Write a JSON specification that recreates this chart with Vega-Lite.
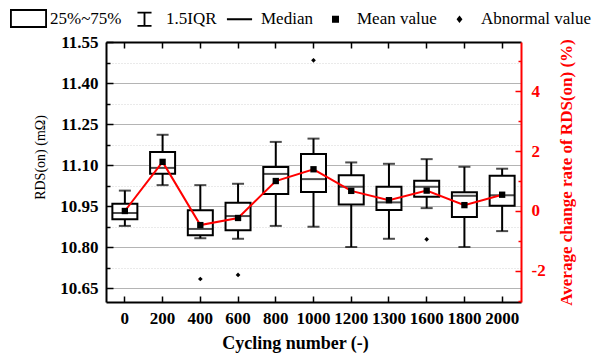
{
  "$schema": "https://vega.github.io/schema/vega-lite/v6.json",
  "width": 415,
  "height": 260,
  "autosize": "none",
  "padding": {"left": 106, "top": 42, "right": 71, "bottom": 54},
  "background": "white",
  "config": {
    "view": {"stroke": null},
    "font": "Liberation Serif",
    "axis": {"labelFont": "Liberation Serif", "titleFont": "Liberation Serif"},
    "legend": {"labelFont": "Liberation Serif"}
  },
  "datasets": {
    "boxes": [
      {"cycle": "0", "wlo": 10.878, "q1": 10.902, "med": 10.925, "q3": 10.959, "whi": 11.007, "mean": 10.9325, "rate": 0.0},
      {"cycle": "200", "wlo": 11.027, "q1": 11.069, "med": 11.090, "q3": 11.148, "whi": 11.211, "mean": 11.112, "rate": 1.642},
      {"cycle": "400", "wlo": 10.833, "q1": 10.844, "med": 10.867, "q3": 10.935, "whi": 11.027, "mean": 10.881, "rate": -0.471},
      {"cycle": "600", "wlo": 10.831, "q1": 10.862, "med": 10.914, "q3": 10.963, "whi": 11.032, "mean": 10.907, "rate": -0.233},
      {"cycle": "800", "wlo": 10.878, "q1": 10.995, "med": 11.068, "q3": 11.093, "whi": 11.185, "mean": 11.042, "rate": 1.002},
      {"cycle": "1000", "wlo": 10.875, "q1": 11.002, "med": 11.049, "q3": 11.141, "whi": 11.197, "mean": 11.085, "rate": 1.395},
      {"cycle": "1200", "wlo": 10.801, "q1": 10.956, "med": 11.021, "q3": 11.063, "whi": 11.110, "mean": 11.006, "rate": 0.672},
      {"cycle": "1300", "wlo": 10.831, "q1": 10.936, "med": 10.964, "q3": 11.021, "whi": 11.105, "mean": 10.972, "rate": 0.361},
      {"cycle": "1600", "wlo": 10.943, "q1": 10.985, "med": 11.021, "q3": 11.043, "whi": 11.122, "mean": 11.007, "rate": 0.681},
      {"cycle": "1800", "wlo": 10.801, "q1": 10.911, "med": 10.988, "q3": 11.001, "whi": 11.094, "mean": 10.954, "rate": 0.197},
      {"cycle": "2000", "wlo": 10.859, "q1": 10.952, "med": 10.990, "q3": 11.061, "whi": 11.087, "mean": 10.992, "rate": 0.544}
    ],
    "outliers": [
      {"cycle": "400", "value": 10.684},
      {"cycle": "600", "value": 10.699},
      {"cycle": "1000", "value": 11.483},
      {"cycle": "1600", "value": 10.829}
    ],
    "legend": [
      {"item": "25%~75%"},
      {"item": "1.5IQR"},
      {"item": "Median"},
      {"item": "Mean value"},
      {"item": "Abnormal value"}
    ]
  },
  "resolve": {"scale": {"y": "independent"}},
  "layer": [
    {
      "data": {"name": "boxes"},
      "mark": {"type": "rule", "color": "black", "strokeWidth": 2},
      "encoding": {
        "x": {
          "field": "cycle", "type": "ordinal", "sort": null,
          "scale": {"paddingInner": 0, "paddingOuter": 0},
          "axis": {
            "orient": "bottom",
            "title": "Cycling number (-)",
            "titleFontSize": 18, "titleFontWeight": "bold", "titleColor": "black",
            "titleX": 189, "titleY": 46, "titleBaseline": "alphabetic", "titleAlign": "center",
            "labelFontSize": 17, "labelFontWeight": "bold", "labelColor": "black",
            "labelAngle": 0, "labelOverlap": false, "labelBound": false,
            "labelBaseline": "alphabetic", "labelPadding": 27,
            "tickSize": -6, "tickColor": "black", "tickWidth": 1.5,
            "domainColor": "black", "domainWidth": 2, "grid": false
          }
        },
        "y": {
          "field": "wlo", "type": "quantitative",
          "scale": {"domain": [10.6, 11.55], "nice": false, "zero": false},
          "axis": {
            "orient": "left",
            "values": [10.65, 10.725, 10.8, 10.875, 10.95, 11.025, 11.1, 11.175, 11.25, 11.325, 11.4, 11.475, 11.55],
            "labelExpr": "abs(round(datum.value*1000) % 150) < 1 ? format(datum.value, '.2f') : ''",
            "labelFontSize": 17, "labelFontWeight": "bold", "labelColor": "black",
            "labelPadding": 15, "labelBaseline": "middle",
            "tickSize": {"condition": {"test": "abs(round(datum.value*1000) % 150) < 1", "value": -7}, "value": -4},
            "tickColor": "black", "tickWidth": 1.5,
            "domainColor": "black", "domainWidth": 2,
            "grid": true,
            "gridColor": {"condition": {"test": "abs(round(datum.value*1000) % 150) < 1", "value": "#b4b4b4"}, "value": "#d4d4d4"},
            "gridDash": {"condition": {"test": "abs(round(datum.value*1000) % 150) < 1", "value": []}, "value": [1, 2]},
            "gridWidth": 1,
            "title": "RDS(on) (mΩ)",
            "titleFontSize": 14, "titleFontWeight": "normal", "titleColor": "black",
            "titleAngle": -90, "titleX": -62, "titleY": 115,
            "titleBaseline": "alphabetic", "titleAlign": "center"
          }
        },
        "y2": {"field": "whi"}
      }
    },
    {
      "data": {"name": "boxes"},
      "mark": {"type": "tick", "color": "black", "size": 12, "thickness": 2},
      "encoding": {
        "x": {"field": "cycle", "type": "ordinal", "sort": null, "axis": null},
        "y": {"field": "wlo", "type": "quantitative", "scale": {"domain": [10.6, 11.55], "nice": false, "zero": false}, "axis": null}
      }
    },
    {
      "data": {"name": "boxes"},
      "mark": {"type": "tick", "color": "black", "size": 12, "thickness": 2},
      "encoding": {
        "x": {"field": "cycle", "type": "ordinal", "sort": null, "axis": null},
        "y": {"field": "whi", "type": "quantitative", "scale": {"domain": [10.6, 11.55], "nice": false, "zero": false}, "axis": null}
      }
    },
    {
      "data": {"name": "boxes"},
      "mark": {"type": "bar", "fill": "white", "stroke": "black", "strokeWidth": 2, "size": 25},
      "encoding": {
        "x": {
          "field": "cycle", "type": "ordinal", "sort": null,
          "axis": {
            "orient": "top", "labels": false, "title": null,
            "tickSize": -6, "tickColor": "black", "tickWidth": 1.5,
            "domainColor": "black", "domainWidth": 2, "grid": false
          }
        },
        "y": {"field": "q1", "type": "quantitative", "scale": {"domain": [10.6, 11.55], "nice": false, "zero": false}, "axis": null},
        "y2": {"field": "q3"}
      }
    },
    {
      "data": {"name": "boxes"},
      "mark": {"type": "tick", "color": "black", "size": 25, "thickness": 2},
      "encoding": {
        "x": {"field": "cycle", "type": "ordinal", "sort": null, "axis": null},
        "y": {"field": "med", "type": "quantitative", "scale": {"domain": [10.6, 11.55], "nice": false, "zero": false}, "axis": null}
      }
    },
    {
      "data": {"name": "outliers"},
      "mark": {"type": "point", "shape": "diamond", "filled": true, "color": "black", "size": 22, "opacity": 1},
      "encoding": {
        "x": {"field": "cycle", "type": "ordinal", "sort": null, "axis": null},
        "y": {"field": "value", "type": "quantitative", "scale": {"domain": [10.6, 11.55], "nice": false, "zero": false}, "axis": null}
      }
    },
    {
      "data": {"name": "legend"},
      "mark": {"type": "point", "filled": true, "color": "black", "fillOpacity": 0, "strokeOpacity": 0},
      "encoding": {
        "shape": {
          "field": "item", "type": "nominal",
          "scale": {
            "domain": ["25%~75%", "1.5IQR", "Median", "Mean value", "Abnormal value"],
            "range": [
              "M-1,-0.51L1,-0.51L1,0.51L-1,0.51ZM-0.9,-0.41L-0.9,0.41L0.9,0.41L0.9,-0.41Z",
              "M-0.38,-0.405L0.38,-0.405L0.38,-0.305L0.05,-0.305L0.05,0.305L0.38,0.305L0.38,0.405L-0.38,0.405L-0.38,0.305L-0.05,0.305L-0.05,-0.305L-0.38,-0.305Z",
              "M-0.68,-0.055L0.68,-0.055L0.68,0.055L-0.68,0.055Z",
              "M-0.19,-0.19L0.19,-0.19L0.19,0.19L-0.19,0.19Z",
              "M0,-0.2L0.16,0L0,0.2L-0.16,0Z"
            ]
          },
          "legend": {
            "orient": "none", "legendX": -96, "legendY": -42,
            "direction": "horizontal", "columns": 5, "columnPadding": 4,
            "padding": 0, "title": null,
            "labelOffset": 3, "labelFontSize": 17, "labelColor": "black", "labelLimit": 300,
            "symbolSize": 1369, "symbolStrokeWidth": 0, "symbolFillColor": "black", "symbolOpacity": 1
          }
        }
      }
    },
    {
      "data": {"name": "boxes"},
      "mark": {"type": "line", "color": "#ff0000", "strokeWidth": 2},
      "encoding": {
        "x": {"field": "cycle", "type": "ordinal", "sort": null, "axis": null},
        "y": {
          "field": "rate", "type": "quantitative",
          "scale": {"domain": [-3.0414, 5.6483], "nice": false, "zero": false},
          "axis": {
            "orient": "right",
            "values": [-3, -2, -1, 0, 1, 2, 3, 4, 5],
            "labelExpr": "datum.value % 2 === 0 ? '' + datum.value : ''",
            "labelFontSize": 17, "labelFontWeight": "bold", "labelColor": "#ff0000",
            "labelPadding": 16, "labelBaseline": "middle",
            "tickSize": {"condition": {"test": "datum.value % 2 === 0", "value": -6}, "value": -3},
            "tickColor": "#ff0000", "tickWidth": 1.5,
            "domainColor": "#ff0000", "domainWidth": 2, "grid": false,
            "title": "Average change rate of RDS(on) (%)",
            "titleFontSize": 17, "titleFontWeight": "bold", "titleColor": "#ff0000",
            "titleAngle": -90, "titleX": 50, "titleY": 130,
            "titleBaseline": "alphabetic", "titleAlign": "center"
          }
        }
      }
    },
    {
      "data": {"name": "boxes"},
      "mark": {"type": "point", "shape": "square", "filled": true, "color": "black", "size": 40, "opacity": 1},
      "encoding": {
        "x": {"field": "cycle", "type": "ordinal", "sort": null, "axis": null},
        "y": {
          "field": "mean", "type": "quantitative",
          "scale": {"domain": [10.6, 11.55], "nice": false, "zero": false},
          "axis": null
        }
      }
    }
  ]
}
